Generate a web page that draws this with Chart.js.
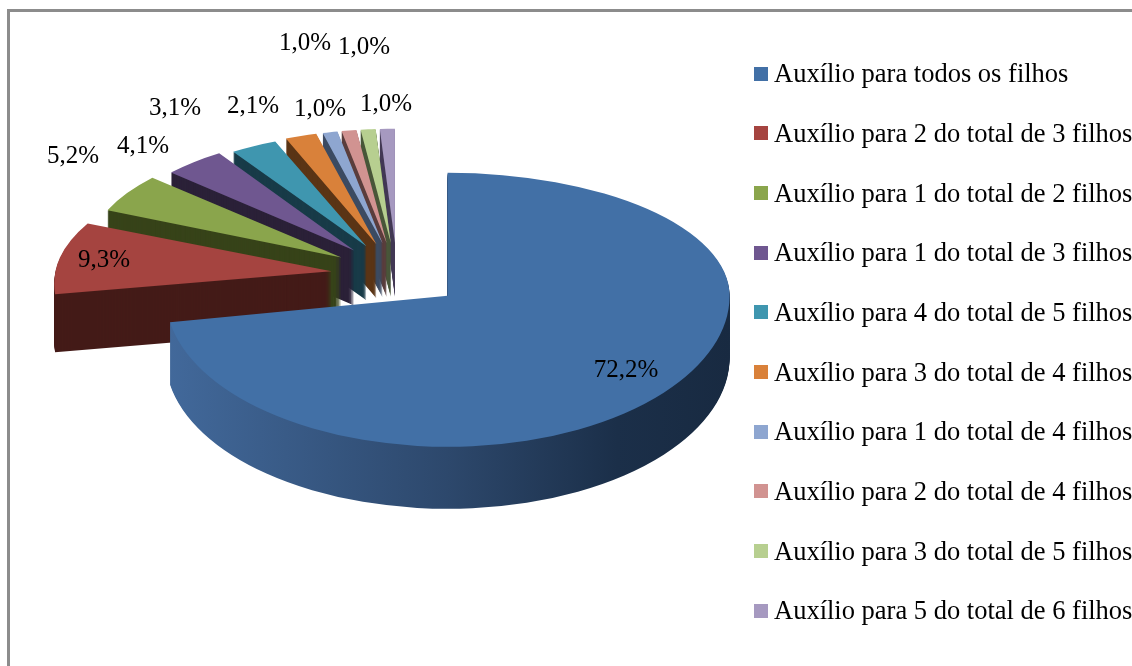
<!DOCTYPE html>
<html>
<head>
<meta charset="utf-8">
<script src="https://cdn.jsdelivr.net/npm/chart.js@4/dist/chart.umd.min.js"></script>
<style>
  html, body { margin: 0; padding: 0; background: #fff; overflow: hidden; }
  #wrap { position: relative; width: 1132px; height: 666px; overflow: hidden; }
  #frame { position: absolute; left: 7px; top: 9px; width: 1200px; height: 800px; border: 3px solid #8c8c8c; box-sizing: border-box; }
  #chart { position: absolute; left: 0; top: 0; }
  #legend { position: absolute; left: 754px; top: 44px; font: 26.5px "Liberation Serif", serif; color: #000; white-space: nowrap; }
  #legend div { height: 59.67px; display: flex; align-items: center; }
  #legend span { width: 14px; height: 14px; margin-right: 6px; flex: none; }
</style>
</head>
<body>
<div id="wrap">
  <div id="frame"></div>
  <canvas id="chart" width="1132" height="666"></canvas>
  <div id="legend"></div>
</div>
<script>
var categories = [
  "Auxílio para todos os filhos",
  "Auxílio para 2 do total de 3 filhos",
  "Auxílio para 1 do total de 2 filhos",
  "Auxílio para 1 do total de 3 filhos",
  "Auxílio para 4 do total de 5 filhos",
  "Auxílio para 3 do total de 4 filhos",
  "Auxílio para 1 do total de 4 filhos",
  "Auxílio para 2 do total de 4 filhos",
  "Auxílio para 3 do total de 5 filhos",
  "Auxílio para 5 do total de 6 filhos"
];
var values = [72.2, 9.3, 5.2, 4.1, 3.1, 2.1, 1.0, 1.0, 1.0, 1.0];

var topColors = ["#4270a6", "#a54440", "#8aa54c", "#6f5790", "#3f96af", "#d9813a", "#8ea6d0", "#d19391", "#b7cf90", "#a699c0"];
var sideColors = ["#2e4a6e", "#441b18", "#374319", "#2b2138", "#183b48", "#5a3415", "#3c4b62", "#5b3e3d", "#4a573a", "#443a56"];

// pie pretend-3D: tilt, explosion and depth
var centerX = 397, centerY = 275, explode = 66, explodeTilt = 0.49;
var sliceWidth = [282, 276, 255, 247, 244, 242, 241, 241, 241, 241];
var radiusBack = [123, 120, 119, 116, 113, 114, 114, 114, 114, 114];
var radiusFront = [151, 132, 119, 116, 113, 114, 114, 114, 114, 114];
var shear = [0, -0.2, 0, 0, 0, 0, 0, 0, 0, 0];
var depth = [62, 58, 56, 55, 54, 54, 54, 54, 54, 54];

// label centres, same order as values
var labelX = [626, 104, 73, 143, 175, 253, 320, 305, 364, 386];
var labelY = [370, 260, 156, 146, 108, 106, 109, 43, 47, 104];

var legendBox = document.getElementById("legend");
categories.forEach(function (name, i) {
  var row = document.createElement("div");
  var box = document.createElement("span");
  box.style.background = topColors[i];
  row.appendChild(box);
  row.appendChild(document.createTextNode(name));
  legendBox.appendChild(row);
});

function drawSlice(ctx, arc, i, fill, drop) {
  var mid = (arc.startAngle + arc.endAngle) / 2 + Math.PI / 2;
  var apexX = centerX + explode * Math.sin(mid);
  var apexY = centerY - explode * explodeTilt * Math.cos(mid) + drop;
  var split = Math.round(apexY);
  var r = arc.outerRadius;
  var saved = arc.options;
  arc.options = Object.assign({}, saved, { backgroundColor: fill });

  // back half and front half have different squash, the picture has perspective
  [[0, split, radiusBack[i]], [split, 800, radiusFront[i]]].forEach(function (part) {
    ctx.save();
    ctx.beginPath();
    ctx.rect(0, part[0], 1132, part[1] - part[0]);
    ctx.clip();
    ctx.translate(apexX, apexY);
    ctx.transform(1, 0, shear[i], 1, 0, 0);
    ctx.scale(sliceWidth[i] / r, part[2] / r);
    ctx.translate(-arc.x, -arc.y);
    arc.draw(ctx);
    ctx.restore();
  });
  arc.options = saved;
}

var pie3d = {
  id: "pie3d",
  beforeDatasetsDraw: function (chart) {
    var ctx = chart.ctx;
    var arcs = chart.getDatasetMeta(0).data;
    for (var i = arcs.length - 1; i >= 0; i--) {
      var side = sideColors[i];
      if (i === 0) {
        // big slice wall goes from lit on the left to dark on the right
        side = ctx.createLinearGradient(arcs[0].x - arcs[0].outerRadius, 0, arcs[0].x + arcs[0].outerRadius, 0);
        side.addColorStop(0, "#42699b");
        side.addColorStop(0.5, "#2d486c");
        side.addColorStop(0.8, "#1b2f49");
        side.addColorStop(1, "#182a41");
      }
      for (var d = depth[i]; d >= 1; d--) {
        drawSlice(ctx, arcs[i], i, side, d);
      }
      drawSlice(ctx, arcs[i], i, topColors[i], 0);
    }
    return false;
  },
  afterDraw: function (chart) {
    var ctx = chart.ctx;
    ctx.save();
    ctx.font = '25px "Liberation Serif", serif';
    ctx.fillStyle = "#000";
    ctx.textAlign = "center";
    ctx.textBaseline = "middle";
    values.forEach(function (v, i) {
      ctx.fillText(v.toFixed(1).replace(".", ",") + "%", labelX[i], labelY[i]);
    });
    ctx.restore();
  }
};

new Chart(document.getElementById("chart"), {
  type: "pie",
  data: {
    labels: categories,
    datasets: [{ data: values, backgroundColor: topColors, borderWidth: 0 }]
  },
  options: {
    responsive: false,
    animation: false,
    plugins: { legend: { display: false }, tooltip: { enabled: false } }
  },
  plugins: [pie3d]
});
</script>
</body>
</html>
